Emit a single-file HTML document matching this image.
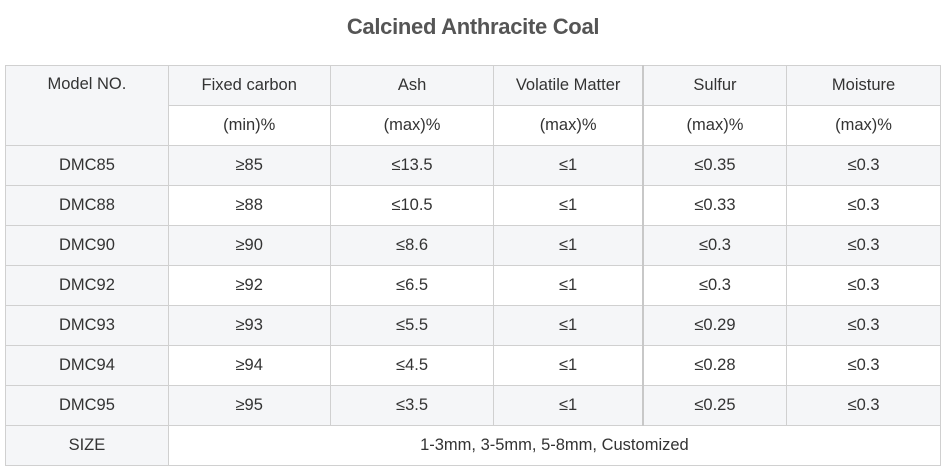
<!DOCTYPE html><html><head><style>
body{margin:0;width:946px;height:470px;background:#fff;font-family:"Liberation Sans",sans-serif;color:#333;overflow:hidden}
h1{position:absolute;top:14px;left:0;width:946px;text-align:center;margin:0;font-size:22px;font-weight:bold;color:#555;letter-spacing:-0.3px}
table{position:absolute;left:5px;top:65px;border-collapse:collapse;width:936px}
td{border:1px solid #d0d0d0;height:39px;text-align:center;font-size:16.5px;padding:0;vertical-align:middle}
.g td,td.g{background:#f5f6f8}
.w td{background:#fff}
td.first{background:#f5f6f8}
.sep{border-left:2px solid #c8c8c8}
</style></head><body>
<h1>Calcined Anthracite Coal</h1>
<table>
<colgroup><col style="width:163px"><col style="width:162px"><col style="width:164px"><col style="width:149px"><col style="width:144px"><col style="width:154px"></colgroup>
<tr class="g"><td rowspan="2" style="vertical-align:top;padding-top:9px">Model NO.</td><td>Fixed carbon</td><td>Ash</td><td>Volatile Matter</td><td class="sep">Sulfur</td><td>Moisture</td></tr>
<tr class="w"><td>(min)%</td><td>(max)%</td><td>(max)%</td><td class="sep">(max)%</td><td>(max)%</td></tr>
<tr class="g"><td>DMC85</td><td>≥85</td><td>≤13.5</td><td>≤1</td><td class="sep">≤0.35</td><td>≤0.3</td></tr>
<tr class="w"><td class="first">DMC88</td><td>≥88</td><td>≤10.5</td><td>≤1</td><td class="sep">≤0.33</td><td>≤0.3</td></tr>
<tr class="g"><td>DMC90</td><td>≥90</td><td>≤8.6</td><td>≤1</td><td class="sep">≤0.3</td><td>≤0.3</td></tr>
<tr class="w"><td class="first">DMC92</td><td>≥92</td><td>≤6.5</td><td>≤1</td><td class="sep">≤0.3</td><td>≤0.3</td></tr>
<tr class="g"><td>DMC93</td><td>≥93</td><td>≤5.5</td><td>≤1</td><td class="sep">≤0.29</td><td>≤0.3</td></tr>
<tr class="w"><td class="first">DMC94</td><td>≥94</td><td>≤4.5</td><td>≤1</td><td class="sep">≤0.28</td><td>≤0.3</td></tr>
<tr class="g"><td>DMC95</td><td>≥95</td><td>≤3.5</td><td>≤1</td><td class="sep">≤0.25</td><td>≤0.3</td></tr>
<tr class="w"><td class="first">SIZE</td><td colspan="5">1-3mm, 3-5mm, 5-8mm, Customized</td></tr>
</table>
</body></html>
